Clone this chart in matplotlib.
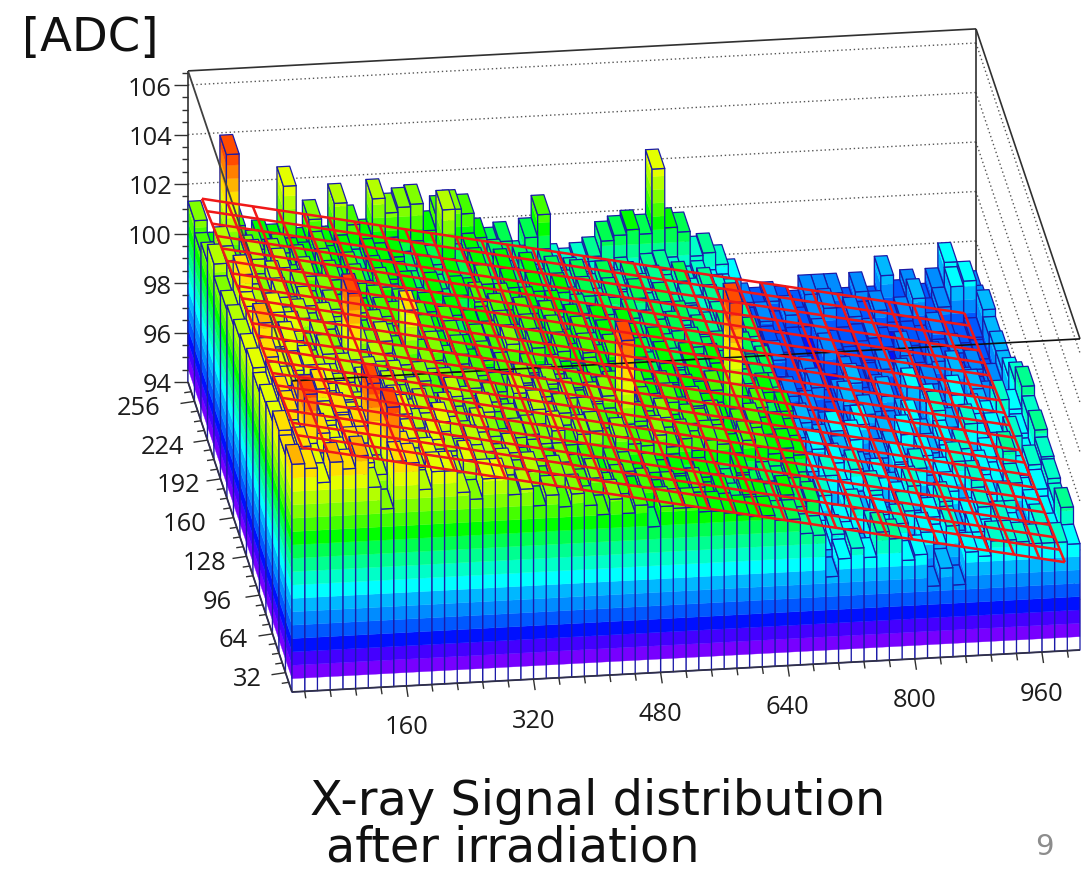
import numpy as np
import matplotlib
matplotlib.use("Agg")
import matplotlib.pyplot as plt
from matplotlib.collections import PolyCollection, LineCollection

# heights: tenths of ADC above 94, one list per y bin (front to back), 62 x bins
row_00 = [92,90,84,92,89,94,81,72,91,90, 79,86,86,77,74,82,82,75,77,70, 74,69,74,69,65,71,65,68,59,67, 66,66,64,64,63,62,61,61,59,59, 53,52,35,42,46,42,52,49,40,42, 29,36,29,42,40,46,46,45,44,44, 44,43]
row_01 = [88,91,84,80,86,90,83,78,105,87, 80,84,79,76,82,80,74,78,73,76, 70,74,71,68,72,66,69,64,67,62, 65,63,66,60,63,59,62,60,58,61, 56,58,38,44,41,36,45,40,47,34, 43,38,45,33,42,39,46,41,37,44, 40,50]
row_02 = [90,86,104,88,83,87,90,107,84,84, 84,79,83,78,75,80,77,72,76,70, 73,69,71,66,70,64,68,66,61,65, 62,64,58,62,60,57,63,56,59,57, 60,54,42,35,40,46,33,43,38,44, 36,41,47,35,40,44,38,46,34,42, 39,44]
row_03 = [86,90,94,84,85,88,84,86,86,82, 86,80,78,82,76,74,79,75,70,74, 75,71,76,70,74,75,68,72,69,68, 72,67,70,65,69,67,63,68,65,62, 64,61,36,44,30,42,37,45,32,40, 46,34,38,43,36,47,41,33,45,39, 42,46]
row_04 = [85,88,82,86,90,81,85,80,84,78, 82,76,80,74,78,72,75,77,69,72, 74,77,72,75,69,73,70,68,103,70, 66,71,64,68,66,69,62,65,67,61, 63,60,40,33,44,38,46,31,42,36, 39,45,34,41,47,37,43,38,50,40, 44,47]
row_05 = [82,86,84,80,78,84,80,76,82,77, 80,74,77,73,70,76,72,68,73,66, 76,71,74,69,73,68,71,73,66,66, 68,65,69,63,67,64,60,108,62,65, 59,63,30,38,32,41,26,37,34,29, 40,35,42,31,38,44,33,40,36,48, 39,50]
row_06 = [84,88,83,82,84,79,76,80,77,78, 74,76,72,75,70,72,68,71,66,69, 68,72,67,71,64,69,67,63,67,61, 67,63,66,60,64,61,65,58,62,59, 63,57,33,26,39,31,36,42,28,34, 37,43,29,35,40,32,46,38,42,34, 41,48]
row_07 = [82,94,84,86,78,74,80,75,104,73, 76,71,74,68,72,67,70,65,68,63, 69,64,68,62,67,64,60,65,61,63, 59,63,57,61,58,62,55,60,60,57, 59,55,29,36,24,33,38,27,40,31, 35,26,41,33,44,37,30,42,39,47, 43,52]
row_08 = [80,85,82,78,82,73,78,74,77,77, 73,76,70,88,68,71,65,69,63,66, 68,72,66,70,64,68,63,67,62,66, 60,64,58,62,59,61,56,60,57,59, 55,58,23,28,34,23,30,25,32,36, 24,29,34,27,39,32,42,30,36,28, 33,46]
row_09 = [78,83,79,82,76,79,73,77,71,75, 69,73,67,66,65,70,63,67,61,65, 66,70,64,68,62,67,61,66,59,64, 58,62,56,60,57,54,59,55,57,53, 56,52,23,27,24,31,23,26,34,23, 29,35,25,38,30,23,33,27,36,31, 29,40]
row_10 = [76,90,78,74,80,72,76,69,74,67, 72,65,70,68,63,67,61,65,59,63, 64,69,62,67,60,65,58,63,57,62, 56,60,54,59,55,58,52,56,53,57, 51,54,24,23,29,23,32,23,27,33, 23,28,24,34,26,31,23,36,29,25, 30,35]
row_11 = [74,80,78,74,79,70,75,66,72,64, 69,62,67,60,65,58,63,57,61,55, 66,60,65,58,63,57,61,55,59,54, 58,52,56,51,55,50,54,52,49,53, 48,52,23,26,21,24,29,23,21,28, 23,25,30,23,27,24,32,25,23,28, 24,35]
row_12 = [79,78,74,80,71,76,69,72,65,70, 63,68,61,66,59,64,57,63,56,61, 60,65,59,63,57,61,55,60,54,58, 53,57,51,56,50,54,49,53,48,52, 50,47,24,25,28,23,25,21,30,23, 24,26,23,21,29,23,24,25,27,23, 24,33]
row_13 = [72,78,68,74,66,72,63,69,61,67, 59,65,58,63,61,60,56,62,54,60, 59,64,57,63,55,61,54,59,53,57, 51,56,52,55,50,53,49,54,47,51, 48,46,23,24,26,23,25,21,28,23, 24,25,27,23,21,25,23,28,24,23, 25,36]
row_14 = [68,64,107,62,68,60,66,64,62,66, 60,64,58,62,60,62,56,60,58,80, 58,62,54,59,50,56,48,54,46,50, 44,48,45,49,46,50,51,48,44,46, 42,40,30,26,28,24,30,25,27,32, 24,28,26,30,25,27,34,26,30,38, 40,30]
row_15 = [73,60,58,70,60,64,62,85,60,71, 60,77,68,62,78,72,74,75,64,70, 72,70,60,56,58,50,59,68,48,46, 48,50,56,58,60,58,84,60,58,48, 49,44,38,28,26,28,26,24,30,30, 30,24,30,24,36,26,30,24,30,40, 30,28]
z_rows = [row_00,row_01,row_02,row_03,row_04,row_05,row_06,row_07,row_08,
          row_09,row_10,row_11,row_12,row_13,row_14,row_15]

palette = ["#ffffff","#7800ff","#4400ff","#0010ff","#0058ff","#008cff","#00b8ff","#00ffff",
           "#00ffc8","#00ff90","#00ff50","#00ff00","#44ff00","#80ff00","#b4ff00","#e4ff00",
           "#ffe000","#ffb400","#ff8000","#ff4c00","#ff1000"]

z_ticks = [94,96,98,100,102,104,106]
y_ticks = [32,64,96,128,160,192,224,256]
x_ticks = [160,320,480,640,800,960]
plane_coef = [103.94,-0.00653,-0.0082]

ZMIN, ZTOP, ZSTEP = 94.0, 106.57, 0.54
XMIN, XMAX, YMIN, YMAX, BIN = 16.0, 1008.0, 16.0, 272.0, 16.0
NAVY = "#1a1aa8"

def proj(x, y, z):
    fx = (np.asarray(x, float) - XMIN) / (XMAX - XMIN)
    fy = (np.asarray(y, float) - YMIN) / (YMAX - YMIN)
    px = 292 + 788 * fx - 104 * fy
    py = 692 - 42 * fx - 310 * fy - 24.75 * (np.asarray(z, float) - ZMIN)
    return px, py

def P(x, y, z):
    a, b = proj(x, y, z)
    return (float(a), float(b))

fig = plt.figure(figsize=(10.85, 8.73), dpi=100)
ax = fig.add_axes([0, 0, 1, 1])
ax.set_xlim(0, 1085)
ax.set_ylim(873, 0)
ax.axis("off")

# dotted grid on the back and right walls
grid = []
for z in z_ticks[1:]:
    grid.append([P(XMIN, YMAX, z), P(XMAX, YMAX, z)])
    grid.append([P(XMAX, YMAX, z), P(XMAX, YMIN, z)])
ax.add_collection(LineCollection(grid, colors="#555555", linewidths=1.0,
                                 linestyles=(0, (1, 2)), zorder=1))
box_back = [[P(XMIN, YMAX, ZMIN), P(XMIN, YMAX, ZTOP)],
            [P(XMAX, YMAX, ZMIN), P(XMAX, YMAX, ZTOP)],
            [P(XMIN, YMAX, ZTOP), P(XMAX, YMAX, ZTOP)],
            [P(XMAX, YMAX, ZTOP), P(XMAX, YMIN, ZTOP)]]
ax.add_collection(LineCollection(box_back, colors="#303030", linewidths=1.2, zorder=1.5))

# lego columns, painted back to front
Z = ZMIN + np.array(z_rows, float) / 10.0
ny, nx = Z.shape
polys, fcs, ecs, lws = [], [], [], []

def band_of(z):
    return int(min((z - ZMIN) / ZSTEP, len(palette) - 1))

def add_face(corner, zlow, zhigh):
    a, b = corner
    if zhigh <= zlow:
        return
    levels = [zlow]
    k = int((zlow - ZMIN) / ZSTEP) + 1
    while ZMIN + k * ZSTEP < zhigh:
        levels.append(ZMIN + k * ZSTEP)
        k += 1
    levels.append(zhigh)
    for l0, l1 in zip(levels[:-1], levels[1:]):
        c = palette[band_of(0.5 * (l0 + l1))]
        polys.append([P(a[0], a[1], l0), P(b[0], b[1], l0), P(b[0], b[1], l1), P(a[0], a[1], l1)])
        fcs.append(c); ecs.append(c); lws.append(0.25)
    polys.append([P(a[0], a[1], zlow), P(b[0], b[1], zlow), P(b[0], b[1], zhigh), P(a[0], a[1], zhigh)])
    fcs.append("none"); ecs.append(NAVY); lws.append(0.9)

for ix in range(nx - 1, -1, -1):
    for iy in range(ny - 1, -1, -1):
        h = Z[iy, ix]
        xl, xh = XMIN + ix * BIN, XMIN + (ix + 1) * BIN
        yl, yh = YMIN + iy * BIN, YMIN + (iy + 1) * BIN
        left = Z[iy, ix - 1] if ix > 0 else ZMIN
        front = Z[iy - 1, ix] if iy > 0 else ZMIN
        add_face(((xl, yh), (xl, yl)), left, h)
        add_face(((xl, yl), (xh, yl)), front, h)
        polys.append([P(xl, yl, h), P(xh, yl, h), P(xh, yh, h), P(xl, yh, h)])
        fcs.append(palette[band_of(h)]); ecs.append(NAVY); lws.append(0.9)

ax.add_collection(PolyCollection(polys, facecolors=fcs, edgecolors=ecs, linewidths=lws,
                                 zorder=2, joinstyle="round"))

# box edges in front of the columns
box_front = [[P(XMIN, YMIN, ZTOP), P(XMAX, YMIN, ZTOP)]]
ax.add_collection(LineCollection(box_front, colors="#101010", linewidths=1.2, zorder=3))
ax.add_collection(LineCollection([[P(XMIN, YMAX, ZTOP), P(XMIN, YMIN, ZTOP)]],
                                 colors="#404040", linewidths=1.3, zorder=3))
axes_lines = [[P(XMIN, YMIN, ZMIN), P(XMAX, YMIN, ZMIN)],
              [P(XMIN, YMIN, ZMIN), P(XMIN, YMAX, ZMIN)]]
ax.add_collection(LineCollection(axes_lines, colors="#303048", linewidths=1.3, zorder=3))

# fit plane mesh
def plane(x, y):
    return plane_coef[0] + plane_coef[1] * x + plane_coef[2] * y

mx = np.linspace(32, 992, 31)
my = np.linspace(22, 269, 21)
mesh = []
for x in mx:
    mesh.append([P(x, my[0], plane(x, my[0])), P(x, my[-1], plane(x, my[-1]))])
for y in my:
    mesh.append([P(mx[0], y, plane(mx[0], y)), P(mx[-1], y, plane(mx[-1], y))])
ax.add_collection(LineCollection(mesh, colors="#f01818", linewidths=1.8, zorder=4))

# ticks
ticks = []
for z in np.arange(94, 106.51, 0.5):
    x0, y0 = proj(XMIN, YMAX, z)
    L = 14 if abs(z / 2 - round(z / 2)) < 1e-6 else 6
    ticks.append([(float(x0), float(y0)), (float(x0) - L, float(y0))])
for y in np.arange(24, 272, 8):
    x0, y0 = proj(XMIN, y, ZMIN)
    L = 14 if y % 32 == 0 else 7
    ticks.append([(float(x0), float(y0)), (float(x0) - L, float(y0) + L * 0.15)])
for x in np.arange(32, 1008, 32):
    x0, y0 = proj(x, YMIN, ZMIN)
    L = 11 if x % 160 == 0 else 7
    ticks.append([(float(x0), float(y0)), (float(x0) + L * 0.15, float(y0) + L)])
ax.add_collection(LineCollection(ticks, colors="#303030", linewidths=1.0, zorder=3))

# labels
TICK_FONT = "Open Sans"
TICK_SIZE = 18.4
TC = "#1c1c1c"
for z in z_ticks:
    x0, y0 = proj(XMIN, YMAX, z)
    ax.text(float(x0) - 16, float(y0) + 4, str(z), ha="right", va="center",
            family=TICK_FONT, fontsize=TICK_SIZE, color=TC, zorder=5)
y_right = [262, 248, 232, 226, 207, 200, 184, 160]
for y, r in zip(y_ticks, y_right):
    x0, y0 = proj(XMIN, y, ZMIN)
    ax.text(r, float(y0) + 7, str(y), ha="right", va="center",
            family=TICK_FONT, fontsize=TICK_SIZE, color=TC, zorder=5)
for x in x_ticks:
    x0, y0 = proj(x, YMIN, ZMIN)
    ax.text(float(x0), float(y0) + 42, str(x), ha="center", va="center",
            family=TICK_FONT, fontsize=TICK_SIZE, color=TC, zorder=5)

ax.text(22, 51, "[ADC]", family="DejaVu Sans", fontsize=33.5, color="#111111", ha="left", va="baseline")
ax.text(310, 815, "X-ray Signal distribution", family="DejaVu Sans", fontsize=34.5, color="#111111",
        ha="left", va="baseline")
ax.text(326, 862, "after irradiation", family="DejaVu Sans", fontsize=34.4, color="#111111",
        ha="left", va="baseline")
ax.text(1044, 847, "9", family="DejaVu Sans", fontsize=21, color="#8c8c8c", ha="center", va="center")

fig.savefig("out.png", dpi=100)
